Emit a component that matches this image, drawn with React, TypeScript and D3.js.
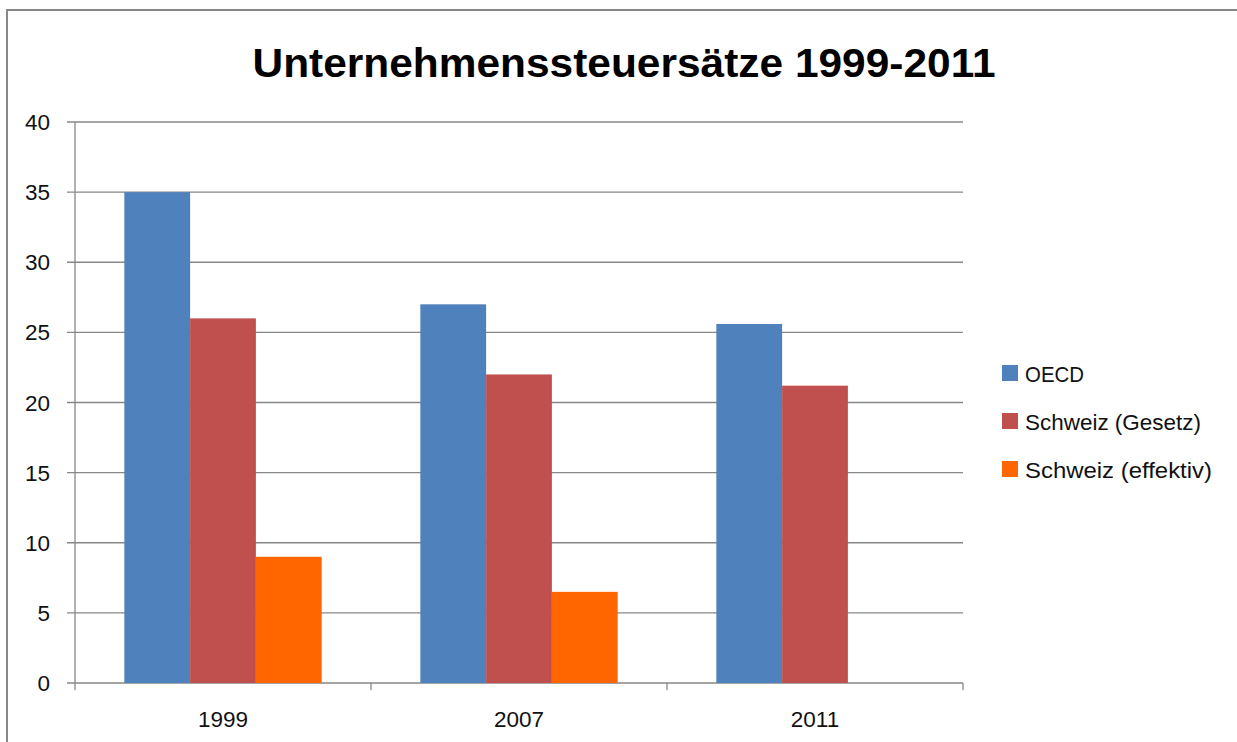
import React from 'react';
import * as d3 from 'd3';

// Werte
const years = ['1999', '2007', '2011'];
const seriesNames = ['OECD', 'Schweiz (Gesetz)', 'Schweiz (effektiv)'];
const legendWidths = [59, 176, 187];
const oecd = [35, 27, 25.6];
const schweizGesetz = [26, 22, 21.2];
const schweizEffektiv = [9, 6.5, null];
const yTicks = [0, 5, 10, 15, 20, 25, 30, 35, 40];

const colors = ['#4F81BD', '#C0504D', '#FF6600'];

const App = () => {
  const width = 1237;
  const height = 742;
  const plot = { left: 75, right: 963, top: 122, bottom: 683 };

  const series = [oecd, schweizGesetz, schweizEffektiv];

  const x = d3.scaleBand<string>()
    .domain(years)
    .range([plot.left, plot.right]);

  // Excel: Abstandsbreite 150 %
  const barW = x.bandwidth() / 4.5;
  const gap = (x.bandwidth() - barW * 3) / 2;

  const y = d3.scaleLinear()
    .domain([0, 40])
    .range([plot.bottom, plot.top]);

  const font = "'Liberation Sans', Arial, sans-serif";
  const textColor = '#111';

  return (
    <svg width={width} height={height} style={{ position: 'fixed', left: 0, top: 0, background: '#fff' }}>
      <rect x={7} y={10} width={width + 20} height={height + 20} fill="#fff" stroke="#888" strokeWidth={2} />

      <text x={624} y={77} textAnchor="middle" fontFamily={font} fontWeight="bold" fontSize={40}
        fill="#000" textLength={743} lengthAdjust="spacingAndGlyphs">
        Unternehmenssteuersätze 1999-2011
      </text>

      {/* Gitternetz und Y-Achse */}
      {yTicks.map(t => (
        <g key={t}>
          <line x1={plot.left - 8} x2={plot.right} y1={y(t)} y2={y(t)} stroke="#878787" strokeWidth={1.3} />
          <text x={50} y={y(t) + 8} textAnchor="end" fontFamily={font} fontSize={22.5} fill={textColor}>{t}</text>
        </g>
      ))}
      <line x1={plot.left} x2={plot.left} y1={plot.top} y2={plot.bottom} stroke="#878787" strokeWidth={1.3} />

      {/* X-Achse Ticks */}
      {[...years.map(c => x(c) as number), plot.right].map((v, i) => (
        <line key={i} x1={v} x2={v} y1={plot.bottom} y2={plot.bottom + 7} stroke="#878787" strokeWidth={1.3} />
      ))}
      {years.map(c => (
        <text key={c} x={(x(c) as number) + x.bandwidth() / 2} y={727} textAnchor="middle"
          fontFamily={font} fontSize={22.5} fill={textColor}>{c}</text>
      ))}

      {/* Balken */}
      {series.map((vals, si) => vals.map((v, ci) => v == null ? null : (
        <rect key={`${si}-${ci}`}
          x={(x(years[ci]) as number) + gap + si * barW}
          y={y(v)}
          width={barW}
          height={y(0) - y(v)}
          fill={colors[si]} />
      )))}

      {/* Legende */}
      {seriesNames.map((name, i) => (
        <g key={name} transform={`translate(1002, ${365 + i * 48})`}>
          <rect x={0} y={0} width={16} height={16} fill={colors[i]} />
          <text x={23} y={17} fontFamily={font} fontSize={22.5} fill={textColor}
            textLength={legendWidths[i]} lengthAdjust="spacingAndGlyphs">{name}</text>
        </g>
      ))}
    </svg>
  );
};

export default App;
